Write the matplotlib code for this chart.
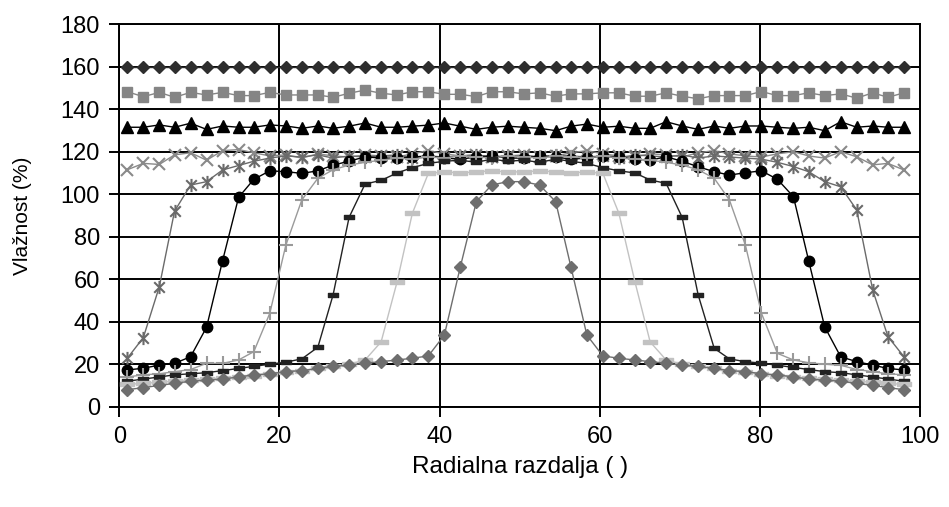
import matplotlib
matplotlib.use("Agg")
import matplotlib.pyplot as plt
from matplotlib.path import Path

plt.rcParams['font.family'] = ['Liberation Sans', 'DejaVu Sans']

# ---------------- data ----------------
x = [1.0, 3.0, 5.0, 6.9, 8.9, 10.9, 12.9, 14.9, 16.8, 18.8,
     20.8, 22.8, 24.8, 26.7, 28.7, 30.7, 32.7, 34.7, 36.6, 38.6,
     40.6, 42.6, 44.6, 46.5, 48.5, 50.5, 52.5, 54.5, 56.4, 58.4,
     60.4, 62.4, 64.4, 66.3, 68.3, 70.3, 72.3, 74.3, 76.2, 78.2,
     80.2, 82.2, 84.2, 86.1, 88.1, 90.1, 92.1, 94.1, 96.0, 98.0]

s_diamond_dark = [160, 160, 160, 160, 160, 160, 160, 160, 160, 160,
                  160, 160, 160, 160, 160, 160, 160, 160, 160, 160,
                  160, 160, 160, 160, 160, 160, 160, 160, 160, 160,
                  160, 160, 160, 160, 160, 160, 160, 160, 160, 160,
                  160, 160, 160, 160, 160, 160, 160, 160, 160, 160]

s_square = [148.2, 145.9, 147.9, 145.6, 147.9, 146.7, 147.9, 146.4, 146.4, 147.9,
            146.7, 146.7, 146.7, 145.6, 147.5, 149.0, 147.5, 146.7, 148.2, 148.2,
            147.0, 147.0, 145.9, 148.2, 148.2, 147.2, 147.7, 146.1, 147.2, 147.2,
            147.7, 147.7, 146.1, 146.1, 147.7, 146.1, 144.9, 146.4, 146.4, 146.4,
            148.3, 146.4, 146.4, 147.7, 146.4, 147.2, 145.2, 147.7, 145.6, 147.7]

s_triangle = [131.5, 131.5, 132.6, 131.5, 133.4, 130.5, 132.1, 131.5, 131.5, 132.6,
              132.1, 131.0, 132.1, 131.0, 132.0, 133.5, 131.5, 131.5, 132.0, 132.5,
              133.5, 132.0, 130.5, 131.5, 132.0, 131.5, 131.0, 129.9, 132.0, 133.0,
              131.5, 132.0, 131.0, 131.0, 134.1, 132.1, 130.5, 132.1, 131.0, 132.1,
              132.1, 131.5, 131.0, 131.5, 129.9, 134.1, 131.5, 132.1, 131.5, 131.5]

s_cross = [111.5, 114.5, 114.0, 118.5, 119.5, 116.0, 120.5, 121.0, 119.5, 118.0,
           118.5, 117.0, 119.0, 118.0, 117.5, 118.5, 118.0, 117.5, 119.0, 120.5,
           119.0, 118.0, 118.5, 117.5, 118.0, 118.5, 117.5, 118.0, 119.5, 120.5,
           119.0, 118.0, 117.5, 119.0, 118.5, 117.5, 119.5, 120.5, 119.0, 118.0,
           117.5, 119.0, 120.0, 118.0, 117.0, 120.0, 117.6, 113.8, 114.5, 111.4]

s_star = [22.8, 32.5, 56.5, 92.0, 104.3, 105.9, 111.4, 113.5, 115.5, 117.0,
          118.0, 117.5, 118.5, 117.0, 118.0, 117.5, 118.0, 118.5, 117.0, 118.0,
          117.5, 118.0, 118.5, 117.5, 118.0, 118.0, 117.5, 118.5, 118.0, 117.5,
          118.0, 117.0, 118.5, 118.0, 117.5, 118.5, 117.0, 118.0, 117.5, 117.0,
          116.5, 115.0, 113.0, 110.6, 105.9, 103.5, 92.6, 54.9, 33.0, 23.5]

s_circle = [17.3, 18.1, 19.6, 20.4, 23.5, 37.4, 68.7, 98.5, 107.0, 111.0,
            110.6, 109.8, 111.0, 113.7, 115.5, 117.6, 117.0, 116.9, 117.5, 118.0,
            117.0, 116.5, 117.5, 118.0, 117.0, 117.0, 118.0, 117.5, 116.5, 117.0,
            118.0, 117.5, 116.5, 116.0, 117.6, 115.5, 112.9, 110.6, 109.0, 110.1,
            111.0, 107.0, 98.8, 68.7, 37.6, 23.5, 21.2, 19.6, 18.0, 17.3]

s_plus = [14.0, 15.0, 15.5, 16.5, 17.5, 20.4, 20.4, 22.0, 25.9, 44.0,
          76.0, 97.3, 107.5, 111.5, 113.7, 115.0, 116.0, 117.0, 116.5, 117.5,
          117.0, 118.0, 117.5, 117.0, 118.0, 117.5, 117.0, 118.0, 117.5, 117.0,
          118.0, 117.0, 116.5, 116.0, 115.0, 113.7, 111.5, 107.5, 97.3, 76.0,
          44.0, 25.1, 22.0, 20.7, 20.0, 19.5, 17.5, 16.5, 15.5, 15.0]

s_dash_dark = [12.0, 13.0, 14.0, 15.0, 15.5, 16.0, 17.0, 18.0, 19.0, 20.0,
               21.0, 22.5, 28.0, 52.6, 89.1, 104.8, 106.5, 110.0, 112.5, 114.5,
               115.5, 116.0, 115.0, 116.5, 115.5, 116.0, 115.0, 116.5, 115.5, 114.5,
               112.5, 111.0, 110.0, 106.7, 105.1, 89.1, 52.6, 27.5, 22.5, 21.2,
               20.5, 19.5, 18.5, 17.5, 16.5, 16.0, 15.0, 14.0, 13.0, 12.0]

s_dash_light = [10.5, 11.0, 11.5, 12.0, 12.5, 13.0, 13.5, 14.0, 14.5, 15.5,
                16.5, 17.0, 18.0, 19.0, 20.0, 22.0, 30.5, 58.8, 91.0, 109.8,
                110.5, 110.0, 110.5, 111.0, 110.5, 110.5, 111.0, 110.5, 110.0, 110.5,
                109.8, 91.0, 58.8, 30.5, 22.0, 20.0, 19.0, 18.0, 17.0, 16.5,
                15.5, 14.5, 14.0, 13.5, 13.0, 12.5, 12.0, 11.5, 11.0, 10.5]

s_diamond_gray = [8.0, 9.0, 10.0, 11.0, 12.0, 12.5, 13.0, 14.0, 15.0, 15.5,
                  16.5, 17.0, 18.0, 19.0, 19.5, 20.5, 21.2, 22.0, 22.8, 23.9,
                  33.7, 65.9, 96.5, 104.3, 105.9, 105.9, 104.3, 96.5, 65.9, 33.7,
                  23.9, 22.8, 22.0, 21.2, 20.5, 19.5, 19.0, 18.0, 17.0, 16.5,
                  15.5, 15.0, 14.0, 13.0, 12.5, 12.0, 11.0, 10.0, 9.0, 8.0]

x_ticks = [0, 20, 40, 60, 80, 100]
y_ticks = [0, 20, 40, 60, 80, 100, 120, 140, 160, 180]
x_label = "Radialna razdalja ( )"
y_label = "Vlažnost (%)"

# ---------------- markers ----------------
M, L, C = Path.MOVETO, Path.LINETO, Path.CLOSEPOLY
star_marker = Path([(-1, -1), (1, 1), (-1, 1), (1, -1), (0, -1.25), (0, 1.25)],
                   [M, L, M, L, M, L])
short_dash = Path([(-1, -0.35), (1, -0.35), (1, 0.35), (-1, 0.35), (-1, -0.35)],
                  [M, L, L, L, C])
long_dash = Path([(-1, -0.25), (1, -0.25), (1, 0.25), (-1, 0.25), (-1, -0.25)],
                 [M, L, L, L, C])

fig = plt.figure(figsize=(9.49, 5.07), dpi=100)
ax = fig.add_axes([0.1257, 0.1978, 0.8437, 0.7545])

lw = 1.0
ax.plot(x, s_diamond_dark, color='#2e2e2e', lw=lw, marker='D', ms=6.5, mec='#2e2e2e', mfc='#2e2e2e', zorder=3)
ax.plot(x, s_square, color='#858585', lw=lw, marker='s', ms=7.5, mec='#858585', mfc='#858585', zorder=3)
ax.plot(x, s_triangle, color='#000000', lw=lw, marker='^', ms=8.5, mec='#000000', mfc='#000000', zorder=3)
ax.plot(x, s_cross, color='#8a8a8a', lw=lw, marker='x', ms=8.5, mew=1.5, mec='#8a8a8a', zorder=3)
ax.plot(x, s_star, color='#6a6a6a', lw=lw, marker=star_marker, ms=9.5, mew=1.5, mec='#6a6a6a', mfc='none', zorder=3)
ax.plot(x, s_circle, color='#000000', lw=lw, marker='o', ms=7.5, mec='#000000', mfc='#000000', zorder=3)
ax.plot(x, s_plus, color='#9a9a9a', lw=lw, marker='+', ms=10.5, mew=1.5, mec='#9a9a9a', zorder=3)
ax.plot(x, s_dash_dark, color='#222222', lw=lw, marker=short_dash, ms=7, mec='#222222', mfc='#222222', zorder=3)
ax.plot(x, s_dash_light, color='#c2c2c2', lw=lw, marker=long_dash, ms=9.5, mec='#c2c2c2', mfc='#c2c2c2', zorder=3)
ax.plot(x, s_diamond_gray, color='#6e6e6e', lw=lw, marker='D', ms=6.5, mec='#6e6e6e', mfc='#6e6e6e', zorder=3)

ax.set_xlim(0, 100)
ax.set_ylim(0, 180)
ax.set_xticks(x_ticks)
ax.set_yticks(y_ticks)
ax.grid(True, color='black', lw=1.4, zorder=1)
ax.set_axisbelow(True)
for sp in ax.spines.values():
    sp.set_color('black')
    sp.set_linewidth(1.4)
ax.tick_params(direction='out', length=7, width=1.4, labelsize=17, colors='black')
ax.tick_params(axis='y', pad=7)
ax.tick_params(axis='x', pad=7)
ax.set_xlabel(x_label, fontsize=17.5)
ax.set_ylabel(y_label, fontsize=15)
ax.xaxis.set_label_coords(0.5, -0.158)
ax.xaxis.label.set_va('center')
ax.yaxis.set_label_coords(-0.1215, 0.5)
ax.yaxis.label.set_va('center')

fig.savefig("out.png", dpi=100)
